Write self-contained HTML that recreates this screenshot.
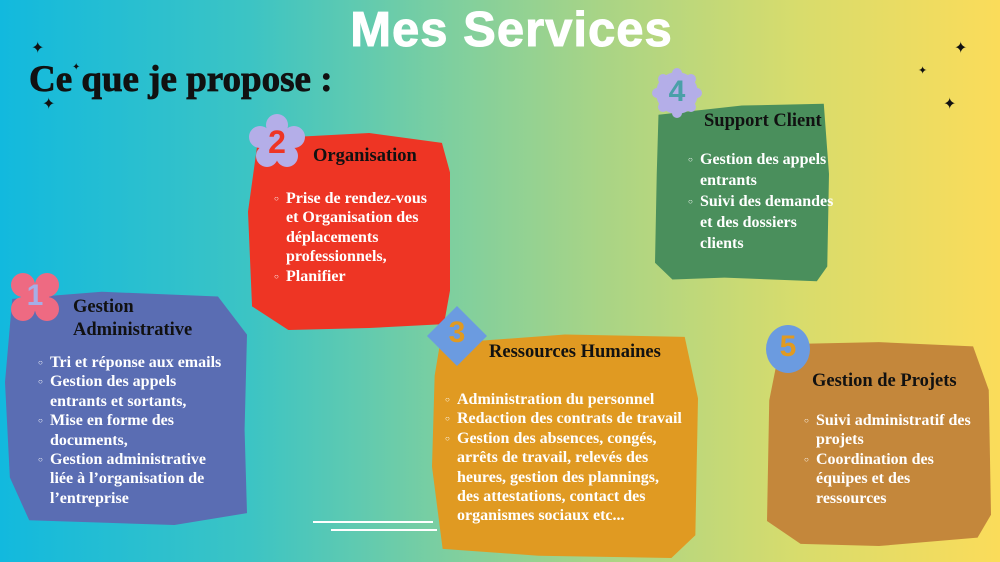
<!DOCTYPE html>
<html><head><meta charset="utf-8"><style>
body{margin:0;width:1000px;height:562px;overflow:hidden;position:relative;font-family:"Liberation Serif",serif;
background:linear-gradient(90deg,#12b9de 0%,#3cc4c4 25%,#7ecf9f 45%,#a8d486 60%,#d8dc6c 80%,#fbdc5a 100%);}
.box{position:absolute;}
.t{position:absolute;color:#fff;font-weight:bold;font-size:16px;line-height:19.4px;white-space:nowrap}
.t div{position:relative}
.t div::before{content:"○";position:absolute;left:-12px;top:0;font-size:8px}
.h{position:absolute;color:#111;font-weight:bold;font-size:18.5px;white-space:nowrap;line-height:23px}
.num{position:absolute;font-family:"Liberation Sans",sans-serif;font-weight:bold;font-size:30px;text-align:center}
.star{position:absolute;color:#111;font-size:16px}
</style></head><body>
<div style="position:absolute;left:0;width:1023px;top:2px;text-align:center;color:#fff;font-family:'Liberation Sans',sans-serif;font-weight:bold;font-size:49px;letter-spacing:1px;-webkit-text-stroke:1px #fff">Mes Services</div>
<div style="position:absolute;left:29px;top:58px;color:#111;font-weight:bold;font-size:37px;-webkit-text-stroke:0.8px #111">Ce que je propose :</div>
<div class="star" style="left:31px;top:38px">✦</div><div class="star" style="left:42px;top:94px">✦</div><div class="star" style="left:72px;top:62px;font-size:10px">✦</div>
<div class="star" style="left:954px;top:38px">✦</div><div class="star" style="left:918px;top:64px;font-size:11px">✦</div><div class="star" style="left:943px;top:94px">✦</div>
<div style="position:absolute;left:313px;top:521px;width:120px;height:2px;background:#fff"></div>
<div style="position:absolute;left:331px;top:529px;width:106px;height:2px;background:#fff"></div>

<!-- box1 -->
<div class="box" style="left:5px;top:287px;width:242px;height:238px;background:#5a6db3;clip-path:polygon(3% 5%,40% 2%,88% 4%,100% 20%,99% 60%,100% 95%,70% 100%,40% 99%,10% 98%,2% 80%,0% 40%)"></div>
<svg style="position:absolute;left:10px;top:272px" width="50" height="50"><g fill="#ee6a82"><circle cx="13" cy="13" r="12"/><circle cx="37" cy="13" r="12"/><circle cx="13" cy="37" r="12"/><circle cx="37" cy="37" r="12"/><circle cx="25" cy="25" r="14"/></g></svg>
<div class="num" style="left:10px;top:279px;width:50px;color:#a6aee6">1</div>
<div class="h" style="left:73px;top:296px">Gestion<br>Administrative</div>
<div class="t" style="left:50px;top:353px"><div>Tri et réponse aux emails</div><div>Gestion des appels<br>entrants et sortants,</div><div>Mise en forme des<br>documents,</div><div>Gestion administrative<br>liée à l’organisation de<br>l’entreprise</div></div>

<!-- box2 -->
<div class="box" style="left:248px;top:133px;width:202px;height:197px;background:#ee3524;clip-path:polygon(5% 3%,60% 0%,96% 5%,100% 20%,100% 80%,97% 97%,60% 99%,20% 100%,2% 88%,0% 40%)"></div>
<svg style="position:absolute;left:248px;top:113px" width="58" height="56"><g fill="#b4aee8"><circle cx="29" cy="12" r="11"/><circle cx="12" cy="24" r="11"/><circle cx="46" cy="24" r="11"/><circle cx="19" cy="43" r="11"/><circle cx="39" cy="43" r="11"/><circle cx="29" cy="28" r="14"/></g></svg>
<div class="num" style="left:253px;top:124px;width:48px;color:#ee3524;font-size:32px">2</div>
<div class="h" style="left:313px;top:145px">Organisation</div>
<div class="t" style="left:286px;top:189px"><div>Prise de rendez-vous<br>et Organisation des<br>déplacements<br>professionnels,</div><div>Planifier</div></div>

<!-- box3 -->
<div class="box" style="left:432px;top:330px;width:266px;height:228px;background:#e09a22;clip-path:polygon(3% 6%,50% 2%,95% 3%,100% 30%,99% 90%,90% 100%,40% 99%,4% 96%,0% 60%,1% 20%)"></div>
<svg style="position:absolute;left:424px;top:303px" width="66" height="66"><polygon points="33,3 63,33 33,63 3,33" fill="#6b9be0"/></svg>
<div class="num" style="left:433px;top:316px;width:48px;color:#e09a22">3</div>
<div class="h" style="left:489px;top:341px">Ressources Humaines</div>
<div class="t" style="left:457px;top:390px"><div>Administration du personnel</div><div>Redaction des contrats de travail</div><div>Gestion des absences, congés,<br>arrêts de travail, relevés des<br>heures, gestion des plannings,<br>des attestations, contact des<br>organismes sociaux etc...</div></div>

<!-- box4 -->
<div class="box" style="left:655px;top:100px;width:174px;height:185px;background:#4a8f5c;clip-path:polygon(2% 8%,50% 3%,97% 2%,100% 40%,99% 90%,93% 98%,40% 96%,10% 97%,0% 88%,1% 40%)"></div>
<svg style="position:absolute;left:652px;top:68px" width="50" height="50"><g fill="#b4aee8"><circle cx="25" cy="25" r="21"/><circle cx="25" cy="5" r="5"/><circle cx="25" cy="45" r="5"/><circle cx="5" cy="25" r="5"/><circle cx="45" cy="25" r="5"/><circle cx="11" cy="11" r="5"/><circle cx="39" cy="11" r="5"/><circle cx="11" cy="39" r="5"/><circle cx="39" cy="39" r="5"/></g></svg>
<div class="num" style="left:652px;top:75px;width:50px;color:#4aa0a8">4</div>
<div class="h" style="left:704px;top:110px">Support Client</div>
<div class="t" style="left:700px;top:149px;line-height:21px"><div>Gestion des appels<br>entrants</div><div>Suivi des demandes<br>et des dossiers<br>clients</div></div>

<!-- box5 -->
<div class="box" style="left:767px;top:338px;width:224px;height:208px;background:#c4873b;clip-path:polygon(6% 3%,50% 2%,92% 4%,99% 25%,100% 85%,94% 96%,50% 100%,15% 99%,0% 88%,1% 30%)"></div>
<svg style="position:absolute;left:765px;top:324px" width="46" height="50"><ellipse cx="23" cy="25" rx="22" ry="24" fill="#6b9be0"/></svg>
<div class="num" style="left:765px;top:330px;width:46px;color:#e09a22">5</div>
<div class="h" style="left:812px;top:370px">Gestion de Projets</div>
<div class="t" style="left:816px;top:411px"><div>Suivi administratif des<br>projets</div><div>Coordination des<br>équipes et des<br>ressources</div></div>
</body></html>
